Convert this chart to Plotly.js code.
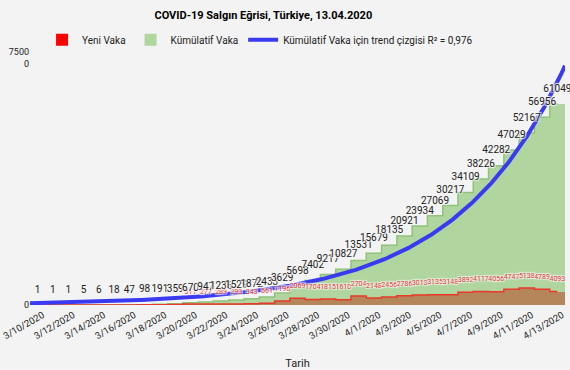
<!DOCTYPE html>
<html>
<head>
<meta charset="utf-8">
<script src="https://cdn.plot.ly/plotly-3.0.1.min.js"></script>
<style>
  html, body { margin: 0; padding: 0; background: #f3f3f3; }
  #chart { width: 570px; height: 370px; }
</style>
</head>
<body>
<div id="chart"></div>
<script>
const dates = ['3/10/2020','3/11/2020','3/12/2020','3/13/2020','3/14/2020','3/15/2020','3/16/2020',
  '3/17/2020','3/18/2020','3/19/2020','3/20/2020','3/21/2020','3/22/2020','3/23/2020','3/24/2020',
  '3/25/2020','3/26/2020','3/27/2020','3/28/2020','3/29/2020','3/30/2020','3/31/2020','4/1/2020',
  '4/2/2020','4/3/2020','4/4/2020','4/5/2020','4/6/2020','4/7/2020','4/8/2020','4/9/2020',
  '4/10/2020','4/11/2020','4/12/2020','4/13/2020'];
const cumulative = [1,1,1,5,6,18,47,98,191,359,670,947,1236,1529,1872,2433,3629,5698,7402,9217,
  10827,13531,15679,18135,20921,23934,27069,30217,34109,38226,42282,47029,52167,56956,61049];
const newCases = [1,0,0,4,1,12,29,51,93,168,311,277,289,293,343,561,1196,2069,1704,1815,
  1610,2704,2148,2456,2786,3013,3135,3148,3892,4117,4056,4747,5138,4789,4093];
// exponential trend line parameters: y = A * exp(B * dayIndex)
const trendA = 580;
const trendB = 0.14;
const yTickVals = [0, 75000];
const yTickText = ['0', '7500<br>0'];
const titleText = 'COVID-19 Salgın Eğrisi, Türkiye, 13.04.2020';
const trendName = 'Kümülatif Vaka için trend çizgisi R² = 0,976';

const idx = dates.map((d, i) => i);
const tickIdx = idx.filter(i => i % 2 === 0);
const tickLbl = tickIdx.map(i => dates[i]);

const trendX = [];
for (let t = -0.5; t <= 34.5001; t += 0.1) trendX.push(t);
const trendY = trendX.map(t => trendA * Math.exp(trendB * t));

const halo = '1px 1px 1px #f3f3f3, -1px -1px 1px #f3f3f3, 1px -1px 1px #f3f3f3, -1px 1px 1px #f3f3f3';
const FONT = 'Roboto, "Noto Sans", sans-serif';

const traces = [
  { type: 'bar', x: idx, y: cumulative, width: 1, name: 'Kümülatif Vaka', legendrank: 2,
    marker: { color: '#b1d59f', line: { width: 0 } }, hoverinfo: 'skip' },
  { type: 'bar', x: idx, y: newCases, width: 1, showlegend: false,
    marker: { color: '#b5865a', line: { width: 0 } }, hoverinfo: 'skip' },
  { type: 'scatter', mode: 'lines', x: idx, y: cumulative, showlegend: false,
    line: { shape: 'hvh', color: '#8fc27a', width: 1.5 }, hoverinfo: 'skip' },
  { type: 'scatter', mode: 'lines', x: idx, y: newCases, showlegend: false,
    line: { shape: 'hvh', color: '#e8392b', width: 1.5 }, hoverinfo: 'skip' },
  { type: 'bar', x: [null], y: [null], name: 'Yeni Vaka', legendrank: 1,
    marker: { color: '#ff0000' } },
  { type: 'scatter', mode: 'lines', x: trendX, y: trendY, name: trendName, legendrank: 3,
    line: { color: '#3a3af2', width: 4 }, hoverinfo: 'skip' },
  { type: 'scatter', mode: 'markers+text', x: idx, y: newCases, showlegend: false,
    text: newCases.map(v => v >= 250 ? String(v) : ''), textposition: 'top center',
    marker: { size: 12, opacity: 0 }, cliponaxis: false,
    textfont: { family: FONT, size: 7, color: '#e53935', shadow: halo }, hoverinfo: 'skip' },
  { type: 'scatter', mode: 'markers+text', x: idx, y: cumulative, showlegend: false,
    text: cumulative.map(String), textposition: 'top center',
    marker: { size: 14, opacity: 0 }, cliponaxis: false,
    textfont: { family: FONT, size: 10, color: '#222222', shadow: halo }, hoverinfo: 'skip' }
];

const layout = {
  width: 570, height: 370,
  paper_bgcolor: '#f3f3f3', plot_bgcolor: '#f3f3f3',
  font: { family: FONT, size: 10, color: '#222222' },
  margin: { l: 30, r: 5, t: 57, b: 65 },
  barmode: 'overlay', bargap: 0,
  showlegend: true,
  title: { text: '<b>' + titleText + '</b>', font: { family: FONT, size: 11, color: '#000' },
    x: 0.462, xref: 'container', xanchor: 'center', y: 0.958, yref: 'container', yanchor: 'middle' },
  legend: { orientation: 'h', x: 0.43, xanchor: 'center', y: 1.07, yanchor: 'middle',
    font: { family: FONT, size: 10, color: '#222' }, bgcolor: 'rgba(0,0,0,0)', itemwidth: 30 },
  xaxis: { range: [-0.5, 34.5], tickmode: 'array', tickvals: tickIdx, ticktext: tickLbl,
    tickangle: -30, tickfont: { family: FONT, size: 9.5, color: '#222' }, showgrid: false,
    zeroline: false, showline: false, ticks: '', fixedrange: true, ticklabeloverflow: 'allow',
    ticklabelshift: 5, ticklabelstandoff: 2,
    title: { text: 'Tarih', font: { family: FONT, size: 11, color: '#222' }, standoff: 23 } },
  yaxis: { range: [0, 75250], tickmode: 'array', tickvals: yTickVals, ticktext: yTickText,
    tickfont: { family: FONT, size: 9, color: '#222' }, showgrid: true, gridcolor: '#c8c8c8',
    zeroline: false, showline: false, ticks: '', fixedrange: true }
};

Plotly.newPlot('chart', traces, layout, { displayModeBar: false, staticPlot: true });
</script>
</body>
</html>
